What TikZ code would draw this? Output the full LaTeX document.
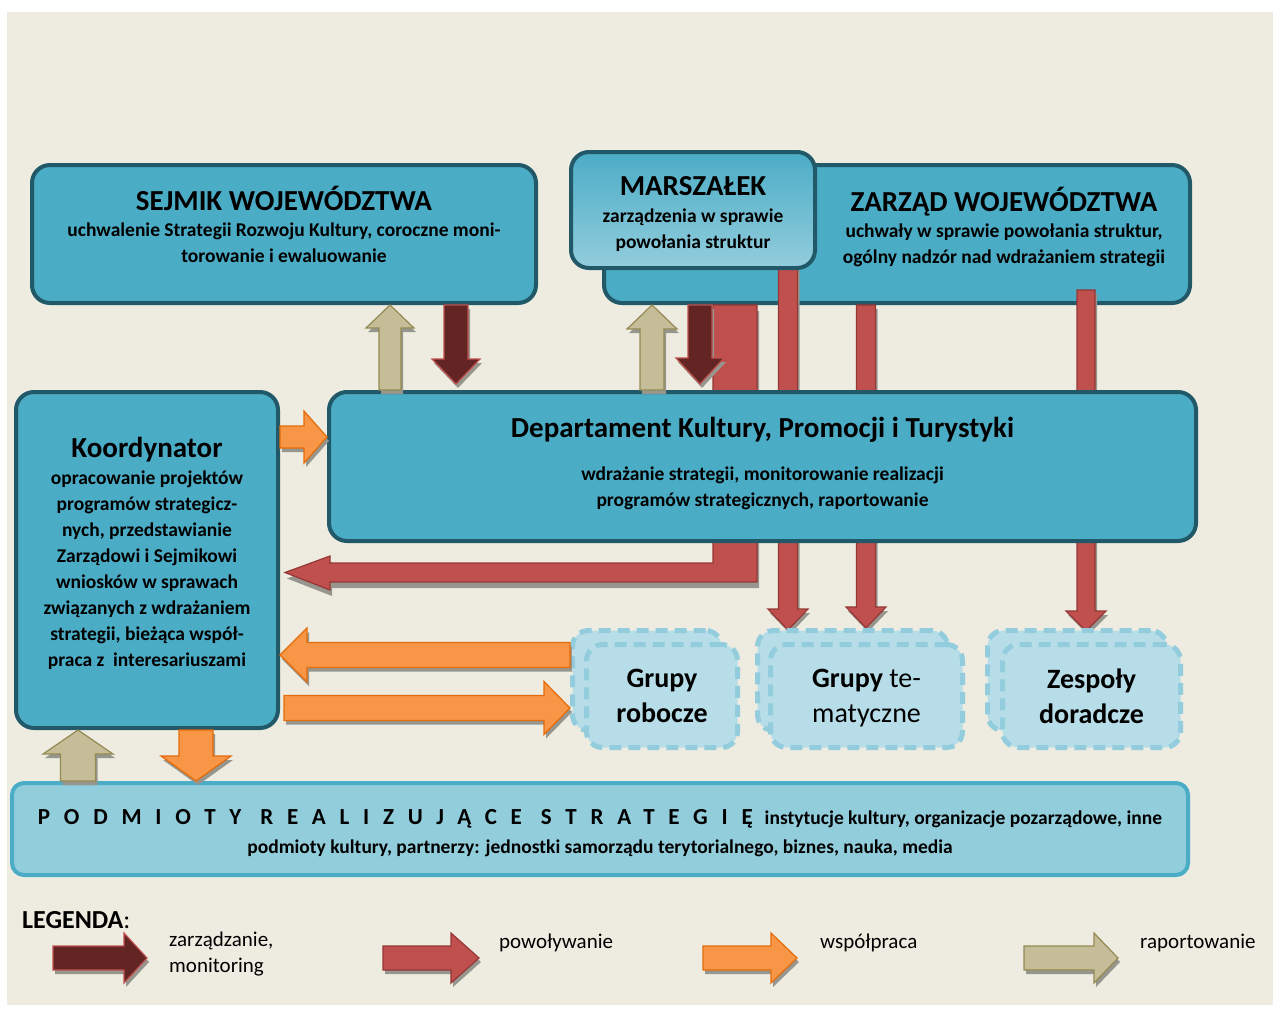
\documentclass[tikz,border=0pt]{standalone}
\usepackage{fontspec}
\setmainfont{Carlito}
\newfontfamily\spacedfont[LetterSpace=60]{Carlito}
\usepackage{tikz}
\usetikzlibrary{arrows.meta, positioning, calc}

\definecolor{bgc}{HTML}{EEECE1}
\definecolor{boxfill}{HTML}{4BACC6}
\definecolor{boxline}{HTML}{215968}
\definecolor{grpfill}{HTML}{B7DEE8}
\definecolor{grpline}{HTML}{93CDDD}
\definecolor{podmfill}{HTML}{92CDDC}
\definecolor{zarfill}{HTML}{632523}
\definecolor{zarline}{HTML}{C0504D}
\definecolor{powfill}{HTML}{C0504D}
\definecolor{powline}{HTML}{953735}
\definecolor{wspfill}{HTML}{F79646}
\definecolor{wspline}{HTML}{E46C0A}
\definecolor{rapfill}{HTML}{C4BD97}
\definecolor{rapline}{HTML}{948A54}
\definecolor{shadowc}{HTML}{96968F}

\pgfdeclarelayer{back}
\pgfdeclarelayer{bars}
\pgfsetlayers{back,bars,main}

% block arrow: style, from, to, shaft half width, head half width, head length
\newcommand{\blockarrow}[6]{%
  \path ($(#3)!#6!(#2)$) coordinate (hb);
  \begin{scope}[transform canvas={shift={(2pt,-4pt)}}]
    \fill[shadowc] ($(#2)!#4!90:(#3)$) -- ($(hb)!#4!-90:(#2)$) -- ($(hb)!#5!-90:(#2)$) -- (#3)
      -- ($(hb)!#5!90:(#2)$) -- ($(hb)!#4!90:(#2)$) -- ($(#2)!#4!-90:(#3)$) -- cycle;
  \end{scope}
  \filldraw[#1] ($(#2)!#4!90:(#3)$) -- ($(hb)!#4!-90:(#2)$) -- ($(hb)!#5!-90:(#2)$) -- (#3)
    -- ($(hb)!#5!90:(#2)$) -- ($(hb)!#4!90:(#2)$) -- ($(#2)!#4!-90:(#3)$) -- cycle;
}
% the L shaped arrow from Zarzad to Koordynator
\newcommand{\powLpath}{(powL |- zarz.south) -- ++(44,0) -- ($(powL)+(44,19)$)
  -- ($(koord.east |- powL)+(50,19)$) -- ++(0,8) -- ($(koord.east |- powL)+(5,9.5)$)
  -- ($(koord.east |- powL)+(50,-7)$) -- ++(0,7) -- (powL) -- cycle}

\begin{document}
\begin{tikzpicture}[x=1pt, y=-1pt,
    box/.style={draw=boxline, line width=4pt, fill=boxfill, rounded corners=18pt, anchor=north west, inner sep=0pt},
    grp/.style={draw=grpline, line width=5pt, dash pattern=on 12pt off 7pt, fill=grpfill, rounded corners=16pt, anchor=north west, inner sep=0pt},
    ttl/.style={font=\bfseries\fontsize{29}{32}\selectfont, inner sep=0pt, anchor=base},
    body/.style={font=\bfseries\fontsize{19.5}{25.9}\selectfont, align=center, inner sep=0pt},
    grptxt/.style={font=\fontsize{28}{35}\selectfont, align=center, inner sep=0pt},
    legtxt/.style={font=\fontsize{21}{26}\selectfont, align=left, inner sep=0pt},
    zararr/.style={fill=zarfill, draw=zarline, line width=1.2pt},
    powarr/.style={fill=powfill, draw=powline, line width=1.2pt},
    wsparr/.style={fill=wspfill, draw=wspline, line width=1.2pt},
    raparr/.style={fill=rapfill, draw=rapline, line width=1.2pt}
]
\useasboundingbox (0,0) rectangle (1273,1009);

% Background and Zarzad (under the red bars)
\begin{pgfonlayer}{back}
\fill[bgc] (7,12) rectangle (1273,1005);
\node[box, minimum width=586pt, minimum height=138pt] (zarz) at (602,163) {};
\end{pgfonlayer}

% Nodes
\node[box, minimum width=504pt, minimum height=138pt] (sejm) at (30,163) {};
\node[box, top color=boxfill, bottom color=grpline, minimum width=244pt, minimum height=116pt] (mars) at (569,150) {};
\node[box, minimum width=867pt, minimum height=149pt] (dep) at (327,390) {};
\node[box, minimum width=262pt, minimum height=336pt] (koord) at (14,390) {};

\node[grp, minimum width=149pt, minimum height=100pt] (grob-b) at (570,628) {};
\node[grp, minimum width=151pt, minimum height=103pt] (grob) at (584,642) {};
\node[grp, minimum width=190pt, minimum height=100pt] (gtem-b) at (755,628) {};
\node[grp, minimum width=192pt, minimum height=103pt] (gtem) at (768,642) {};
\node[grp, minimum width=179pt, minimum height=100pt] (zesp-b) at (985,628) {};
\node[grp, minimum width=178pt, minimum height=103pt] (zesp) at (1000,642) {};

\node[box, draw=boxfill, fill=podmfill, rounded corners=12pt, minimum width=1176pt, minimum height=92pt] (podm) at (10,781) {};

% Texts
\node[ttl] (sejmT) at ([yshift=-47pt]sejm.north) {SEJMIK WOJEWÓDZTWA};
\node[body, below=13pt of sejmT.base] (sejmB) {uchwalenie Strategii Rozwoju Kultury, coroczne moni-\\torowanie i ewaluowanie};

\node[ttl] (marsT) at ([yshift=-45pt]mars.north) {MARSZAŁEK};
\node[body, below=14pt of marsT.base] (marsB) {zarządzenia w sprawie\\powołania struktur};

\node[ttl] (zarzT) at ([xshift=107pt,yshift=-48pt]zarz.north) {ZARZĄD WOJEWÓDZTWA};
\node[body, below=13pt of zarzT.base] (zarzB) {uchwały w sprawie powołania struktur,\\ogólny nadzór nad wdrażaniem strategii};

\node[ttl] (depT) at ([yshift=-47pt]dep.north) {Departament Kultury, Promocji i Turystyki};
\node[body, below=30pt of depT.base] (depB) {wdrażanie strategii, monitorowanie realizacji\\programów strategicznych, raportowanie};

\node[ttl] (koordT) at ([yshift=-67pt]koord.north) {Koordynator};
\node[body, below=14pt of koordT.base] (koordB) {opracowanie projektów\\programów strategicz-\\nych, przedstawianie\\Zarządowi i Sejmikowi\\wniosków w sprawach\\związanych z wdrażaniem\\strategii, bieżąca współ-\\praca z\ \ interesariuszami};

\node[grptxt] (grobT) at (grob.center) {\textbf{Grupy}\\\textbf{robocze}};
\node[grptxt] (gtemT) at ([yshift=-2pt]gtem.center) {\textbf{Grupy} te-\\matyczne};
\node[grptxt] (zespT) at (zesp.center) {\textbf{Zespoły}\\\textbf{doradcze}};

\node[font=\bfseries\fontsize{19.5}{29}\selectfont, align=center, inner sep=0pt, below=28pt of podm.north] (podmT)
  {{\spacedfont\fontsize{23}{29}\selectfont PODMIOTY REALIZUJĄCE STRATEGIĘ}\hspace{12pt}instytucje kultury, organizacje pozarządowe, inne\\podmioty kultury, partnerzy: jednostki samorządu terytorialnego, biznes, nauka, media};

% Legend
\node[font=\fontsize{26}{28}\selectfont, inner sep=0pt, anchor=base west] (leg) at (22,928) {\textbf{LEGENDA}:};
\node[legtxt, anchor=north west] (leg1) at (169,932) {zarządzanie,\\monitoring};
\node[legtxt, anchor=base west] (leg2) at (499,948) {powoływanie};
\node[legtxt, anchor=base west] (leg3) at (820,948) {współpraca};
\node[legtxt, anchor=base west] (leg4) at (1140,948) {raportowanie};

% Arrow positions
\coordinate (rapS) at (390,0);
\coordinate (zarS) at (456,0);
\coordinate (rapZ) at (652,0);
\coordinate (zarZ) at (700,0);
\coordinate (powT1) at (788,0);
\coordinate (powT2) at (866,0);
\coordinate (powD) at (1086,0);
\coordinate (powL) at (713,563);
\coordinate (wspD) at (0,437);
\coordinate (wspG1) at (0,655);
\coordinate (wspG2) at (0,708);
\coordinate (wspP) at (196,0);
\coordinate (rapP) at (78,0);

% Red bars (behind Marszalek and Departament)
\begin{pgfonlayer}{bars}
\coordinate (p1a) at ($(powT1 |- mars.south)+(0,-4)$);
\coordinate (p1b) at ($(powT1 |- gtem-b.north)+(0,2)$);
\blockarrow{powarr}{p1a}{p1b}{9.5pt}{20pt}{21pt}
\blockarrow{powarr}{powT2 |- zarz.south}{powT2 |- gtem-b.north}{9.5pt}{20pt}{21pt}
\coordinate (p3a) at ($(powD |- zarz.south)+(0,-15)$);
\coordinate (p3b) at ($(powD |- zesp-b.north)+(0,3)$);
\blockarrow{powarr}{p3a}{p3b}{9pt}{20pt}{20pt}
\begin{scope}[transform canvas={shift={(2pt,-6pt)}}]
  \fill[shadowc] \powLpath;
\end{scope}
\filldraw[powarr] \powLpath;
\end{pgfonlayer}

% Arrows
\coordinate (tipS) at ($(zarS |- dep.north)+(0,-6)$);
\coordinate (tipZ) at ($(zarZ |- dep.north)+(0,-6)$);
\blockarrow{raparr}{rapS |- dep.north}{rapS |- sejm.south}{11pt}{24pt}{23pt}
\blockarrow{zararr}{zarS |- sejm.south}{tipS}{12pt}{24pt}{25pt}
\blockarrow{raparr}{rapZ |- dep.north}{rapZ |- zarz.south}{12pt}{25pt}{24pt}
\blockarrow{zararr}{zarZ |- zarz.south}{tipZ}{12pt}{24pt}{26pt}

\blockarrow{wsparr}{koord.east |- wspD}{dep.west |- wspD}{11pt}{26pt}{23pt}
\blockarrow{wsparr}{grob-b.west |- wspG1}{koord.east |- wspG1}{12.5pt}{27pt}{27pt}
\coordinate (w2a) at ($(koord.east |- wspG2)+(4,0)$);
\blockarrow{wsparr}{w2a}{grob-b.west |- wspG2}{12.5pt}{26.5pt}{26pt}
\blockarrow{wsparr}{wspP |- koord.south}{wspP |- podm.north}{17pt}{35pt}{25pt}
\blockarrow{raparr}{rapP |- podm.north}{rapP |- koord.south}{17.5pt}{35pt}{24pt}

% Legend arrows
\coordinate (l1a) at (53,958);
\coordinate (l1b) at (147,958);
\coordinate (l2a) at (383,958);
\coordinate (l2b) at (479,958);
\coordinate (l3a) at (703,958);
\coordinate (l3b) at (797,958);
\coordinate (l4a) at (1024,958);
\coordinate (l4b) at (1118,958);
\blockarrow{zararr}{l1a}{l1b}{12pt}{25pt}{23pt}
\blockarrow{powarr}{l2a}{l2b}{12pt}{25pt}{28pt}
\blockarrow{wsparr}{l3a}{l3b}{12pt}{25pt}{26pt}
\blockarrow{raparr}{l4a}{l4b}{12pt}{25pt}{24pt}

\end{tikzpicture}
\end{document}
